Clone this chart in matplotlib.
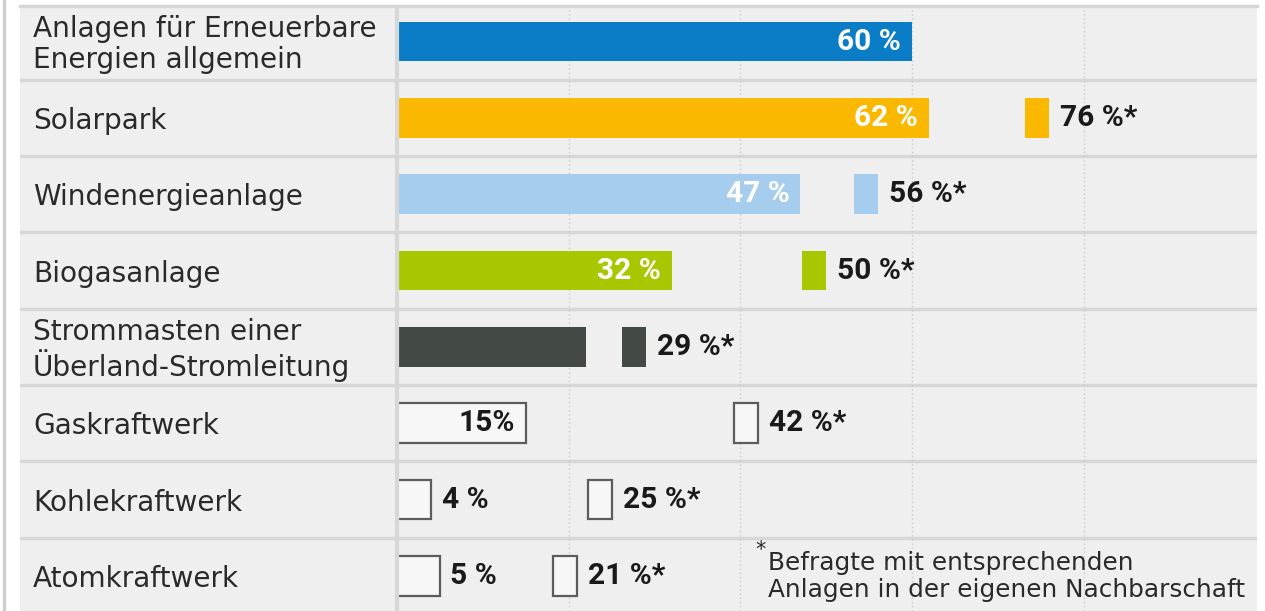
import matplotlib.pyplot as plt
from matplotlib.transforms import blended_transform_factory

categories = ["Anlagen für Erneuerbare\nEnergien allgemein", "Solarpark",
              "Windenergieanlage", "Biogasanlage",
              "Strommasten einer\nÜberland-Stromleitung", "Gaskraftwerk",
              "Kohlekraftwerk", "Atomkraftwerk"]
values = [60, 62, 47, 32, 22, 15, 4, 5]
value_labels = ["60 %", "62 %", "47 %", "32 %", "", "15%", "4 %", "5 %"]
neighbour = [None, 76, 56, 50, 29, 42, 25, 21]
neighbour_labels = [None, "76 %*", "56 %*", "50 %*", "29 %*", "42 %*", "25 %*", "21 %*"]
fill_colors = ["#0a7dc6", "#fab800", "#a6cdee", "#a9c700", "#434a46",
               "#f7f7f7", "#f7f7f7", "#f7f7f7"]
outlined = [False, False, False, False, False, True, True, True]
label_colors = ["white", "white", "white", "white", "#434a46",
                "#1a1a1a", "#1a1a1a", "#1a1a1a"]
footnote = "Befragte mit entsprechenden\nAnlagen in der eigenen Nachbarschaft"

W, H = 1265, 611
fig = plt.figure(figsize=(W / 100, H / 100), dpi=100)
fig.patch.set_facecolor("white")
ax = fig.add_axes([20 / W, 0, 1237 / W, 603 / H])
ax.set_facecolor("#efefef")
ax.set_xlim(-43.94, 100.2)
ax.set_ylim(7.46, -0.44)
ax.set_xticks([])
ax.set_yticks([])
for s in ax.spines.values():
    s.set_visible(False)

# frame lines
fig.add_artist(plt.Line2D([4 / W, 4 / W], [0, 1], color="#cfcfcf", lw=2.5))
fig.add_artist(plt.Line2D([20 / W, 1257 / W], [1 - 6 / H, 1 - 6 / H], color="#d6d6d6", lw=2.5))

for i in range(7):
    ax.axhline(i + 0.5, color="#d7d7d7", lw=2.5, zorder=1)
for g in [20, 40, 60, 80]:
    ax.axvline(g, color="#c9c9c9", lw=1, ls=(0, (1, 2)), zorder=1)

bar_h = 0.52
bold = dict(family="Roboto", weight="bold", fontsize=21.5)

for i, v in enumerate(values):
    if outlined[i]:
        ax.barh(i, v, height=bar_h, color=fill_colors[i], edgecolor="#5c5c5c",
                linewidth=1.6, zorder=2)
    else:
        ax.barh(i, v, height=bar_h, color=fill_colors[i], zorder=2)
    if value_labels[i]:
        if v >= 10:
            ax.text(v - 1.3, i, value_labels[i], ha="right", va="center",
                    color=label_colors[i], zorder=4, **bold)
        else:
            ax.text(v + 1.2, i, value_labels[i], ha="left", va="center",
                    color=label_colors[i], zorder=4, **bold)
    n = neighbour[i]
    if n is not None:
        if outlined[i]:
            ax.barh(i, 2.8, left=n - 2.8, height=bar_h, color=fill_colors[i],
                    edgecolor="#5c5c5c", linewidth=1.6, zorder=2)
        else:
            ax.barh(i, 2.8, left=n - 2.8, height=bar_h, color=fill_colors[i], zorder=2)
        ax.text(n + 1.3, i, neighbour_labels[i], ha="left", va="center",
                color="#1a1a1a", zorder=4, **bold)

# separator between label column and bars (hides left edge of outlined boxes)
ax.axvline(-0.05, color="#d7d7d7", lw=3, zorder=3)

trans = blended_transform_factory(ax.transAxes, ax.transData)
for i, c in enumerate(categories):
    ax.text(13 / 1237, i + 0.04, c, transform=trans, ha="left", va="center",
            fontsize=20.2, color="#2a2a2a", family="DejaVu Sans", linespacing=1.15)

ax.text(41.7, 6.66, "*", fontsize=15, color="#2a2a2a", ha="left", va="center")
ax.text(43.2, 7.01, footnote, fontsize=17.8, color="#2a2a2a", ha="left", va="center",
        family="DejaVu Sans", linespacing=1.18)

fig.savefig("out.png", dpi=100, facecolor="white")
